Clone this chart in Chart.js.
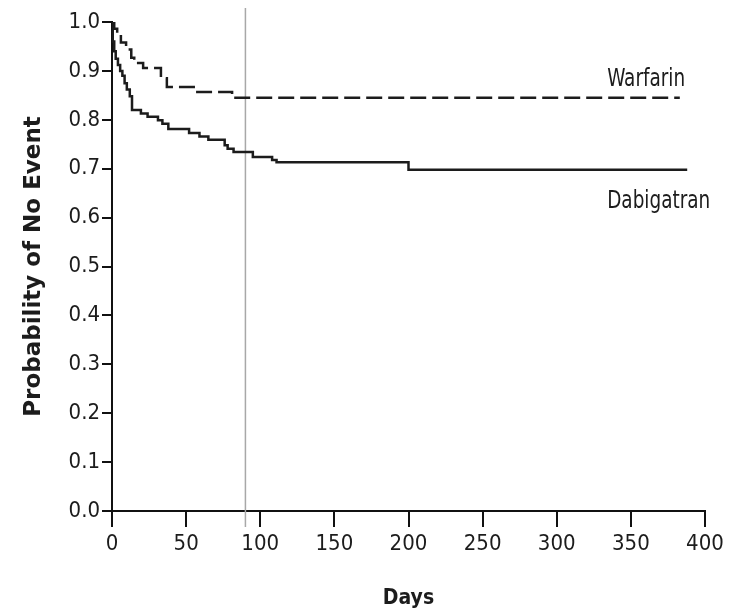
<!DOCTYPE html>
<html>
<head>
<meta charset="utf-8">
<script src="https://cdn.jsdelivr.net/npm/chart.js@4"></script>
<style>
  html, body { margin: 0; padding: 0; background: #fff; }
  #wrap { width: 734px; height: 613px; }
</style>
</head>
<body>
<div id="wrap"><canvas id="chart" width="734" height="613"></canvas></div>
<script>
// Kaplan-Meier steps (days, probability of no event)
const warfarinDays = [0, 1.5, 3.5, 6, 9.5, 13, 15, 21, 33, 37, 56, 81, 383];
const warfarinProb = [1.0, 0.986, 0.975, 0.958, 0.944, 0.927, 0.916, 0.906, 0.885, 0.867, 0.857, 0.845, 0.845];

const dabigatranDays = [0, 0.5, 1.5, 2.5, 4, 5.5, 7, 8.5, 10, 12, 13.5, 19.5, 24, 31, 34, 38, 52, 59, 65, 76, 78, 82, 95, 108, 111, 200, 388];
const dabigatranProb = [1.0, 0.96, 0.94, 0.925, 0.912, 0.90, 0.89, 0.875, 0.862, 0.848, 0.82, 0.813, 0.806, 0.799, 0.792, 0.781, 0.773, 0.766, 0.759, 0.748, 0.741, 0.734, 0.724, 0.718, 0.713, 0.698, 0.698];

const xTicks = [0, 50, 100, 150, 200, 250, 300, 350, 400];
const seriesNames = ["Warfarin", "Dabigatran"];
const markerDay = 90;

const narrow = '"Liberation Sans Narrow", "DejaVu Sans Condensed", sans-serif';
const ink = "#1c1c1c";

function toPoints(days, probs){
  return days.map((d, i) => ({x: d, y: probs[i]}));
}

// squeezed text, the picture's lettering is narrow
function squeezedText(ctx, text, x, y, sx){
  ctx.save();
  ctx.translate(x, y);
  ctx.scale(sx, 1);
  ctx.fillText(text, 0, 0);
  ctx.restore();
}

const extras = {
  id: "extras",
  beforeDatasetsDraw(chart){
    const ctx = chart.ctx;
    const x = chart.scales.x.getPixelForValue(markerDay);
    ctx.save();
    ctx.strokeStyle = "#a8a8a8";
    ctx.lineWidth = 1.5;
    ctx.beginPath();
    ctx.moveTo(x, 8);
    ctx.lineTo(x, 527);
    ctx.stroke();
    ctx.restore();
  },
  afterDatasetsDraw(chart){
    const ctx = chart.ctx;
    const xs = chart.scales.x, ys = chart.scales.y;
    ctx.save();
    ctx.fillStyle = ink;
    ctx.font = "25px " + narrow;
    ctx.textAlign = "left";
    ctx.textBaseline = "alphabetic";
    squeezedText(ctx, seriesNames[0], xs.getPixelForValue(334), ys.getPixelForValue(0.869), 0.82);
    squeezedText(ctx, seriesNames[1], xs.getPixelForValue(334), ys.getPixelForValue(0.62), 0.82);
    ctx.restore();
  }
};

new Chart(document.getElementById("chart"), {
  type: "line",
  data: {
    datasets: [{
      label: seriesNames[0],
      data: toPoints(warfarinDays, warfarinProb),
      stepped: true,
      borderColor: ink,
      borderWidth: 2.5,
      borderDash: [16, 6],
      pointRadius: 0,
      fill: false
    }, {
      label: seriesNames[1],
      data: toPoints(dabigatranDays, dabigatranProb),
      stepped: true,
      borderColor: ink,
      borderWidth: 2.5,
      pointRadius: 0,
      fill: false
    }]
  },
  options: {
    responsive: false,
    animation: false,
    layout: { padding: { top: 22, right: 29, left: 0, bottom: 0 } },
    plugins: { legend: { display: false }, tooltip: { enabled: false } },
    scales: {
      x: {
        type: "linear",
        min: 0,
        max: 400,
        afterBuildTicks(scale){ scale.ticks = xTicks.map(v => ({value: v})); },
        afterFit(scale){ scale.height = 102; },
        ticks: { color: ink, font: { family: narrow, size: 22 }, padding: 4, maxRotation: 0 },
        grid: { display: true, drawOnChartArea: false, drawTicks: true, tickLength: 16, color: "#111", lineWidth: 2 },
        border: { display: true, color: "#111", width: 2 },
        title: { display: true, text: "Days", color: ink, font: { family: narrow, size: 21, weight: "bold", lineHeight: 1.2 }, padding: { top: 0, bottom: 2 } }
      },
      y: {
        min: 0,
        max: 1,
        ticks: { stepSize: 0.1, color: ink, font: { family: narrow, size: 22 }, padding: 2, callback: v => v.toFixed(1) },
        afterFit(scale){ scale.width = 112; },
        grid: { display: true, drawOnChartArea: false, drawTicks: true, tickLength: 10, color: "#111", lineWidth: 2 },
        border: { display: true, color: "#111", width: 2 },
        title: { display: true, text: "Probability of No Event", color: ink, font: { family: "DejaVu Sans", size: 23, weight: "bold", lineHeight: 1.2 }, padding: { top: 20, bottom: 0 } }
      }
    }
  },
  plugins: [extras]
});
</script>
</body>
</html>
